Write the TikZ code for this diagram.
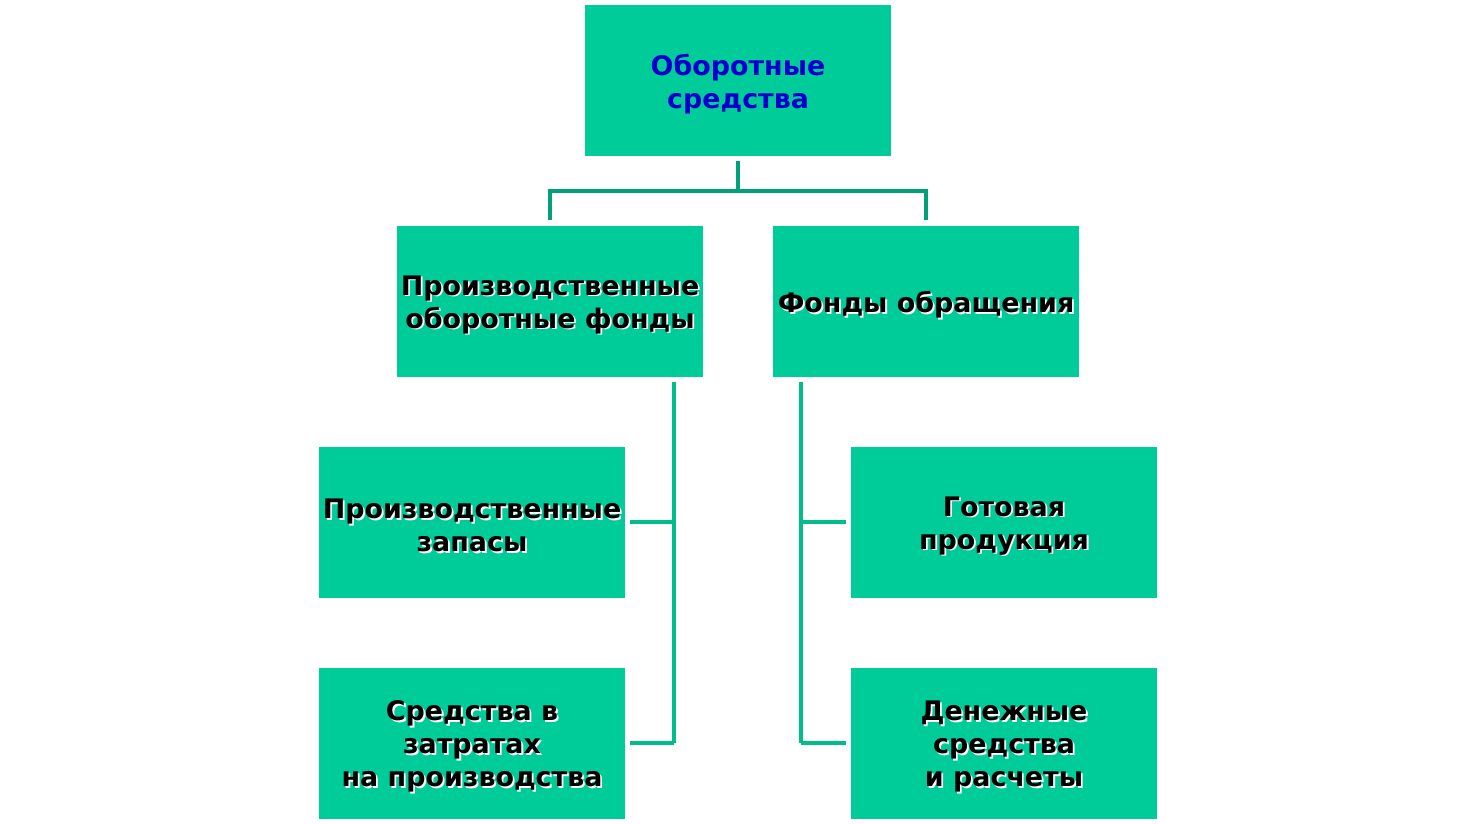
\documentclass[tikz,border=0pt]{standalone}
\usepackage{fontspec}
\setmainfont{DejaVu Sans}
\definecolor{boxc}{HTML}{00CC99}
\definecolor{lineA}{HTML}{00A07A}
\definecolor{lineB}{HTML}{00BE8C}
\definecolor{titc}{HTML}{0000CC}
\newcommand{\shd}[1]{\makebox[0pt][l]{\raisebox{-1.8pt}{\hspace{1.8pt}\color{white}#1}}#1}
\begin{document}
\begin{tikzpicture}[x=1pt,y=-1pt,
  box/.style={fill=boxc,draw=none,minimum width=306pt,minimum height=151pt,inner sep=0pt},
  txt/.style={inner sep=0pt,align=center,font=\fontsize{26.9}{33}\selectfont\bfseries},
  connA/.style={draw=lineA,line width=3.5pt},
  connB/.style={draw=lineB,line width=3.5pt}]
\useasboundingbox (0,0) rectangle (1477,824);
\node[box] (top) at (738,80.5) {};
\node[box] (l2) at (550,301) {};
\node[box] (r2) at (926,301) {};
\node[box] (l3) at (472,522) {};
\node[box] (r3) at (1004,522) {};
\node[box] (l4) at (472,743) {};
\node[box] (r4) at (1004,743) {};
\node[txt,text=titc] (topt) at ([shift={(0,4)}]top.center) {Оборотные\\средства};
\node[txt] (l2t) at ([shift={(0,4.5)}]l2.center) {\shd{Производственные}\\\shd{оборотные фонды}};
\node[txt] (r2t) at ([shift={(0,4.5)}]r2.center) {\shd{Фонды обращения}};
\node[txt] (l3t) at ([shift={(0,4.5)}]l3.center) {\shd{Производственные}\\\shd{запасы}};
\node[txt] (r3t) at ([shift={(0,4.5)}]r3.center) {\shd{Готовая}\\\shd{продукция}};
\node[txt] (l4t) at ([shift={(0,4.5)}]l4.center) {\shd{Средства в}\\\shd{затратах}\\\shd{на производства}};
\node[txt] (r4t) at ([shift={(0,4.5)}]r4.center) {\shd{Денежные}\\\shd{средства}\\\shd{и расчеты}};
% top connectors
\coordinate (tj) at (738,191);
\draw[connA] ([shift={(0,5)}]top.south) -- (tj);
\draw[connA] ([shift={(0,-5)}]l2.north) |- (tj) -| ([shift={(0,-5)}]r2.north);
% left branch
\coordinate (lb) at ([shift={(124,5)}]l2.south);
\coordinate (lb4) at (lb |- l4.east);
\draw[connB] (lb) -- (lb4);
\draw[connB] ([shift={(5,0)}]l3.east) -- (lb |- l3.east);
\draw[connB] ([shift={(5,0)}]l4.east) -- (lb4);
% right branch
\coordinate (rb) at ([shift={(-125,5)}]r2.south);
\coordinate (rb4) at (rb |- r4.west);
\draw[connB] (rb) -- (rb4);
\draw[connB] ([shift={(-5,0)}]r3.west) -- (rb |- r3.west);
\draw[connB] ([shift={(-5,0)}]r4.west) -- (rb4);
\end{tikzpicture}
\end{document}
